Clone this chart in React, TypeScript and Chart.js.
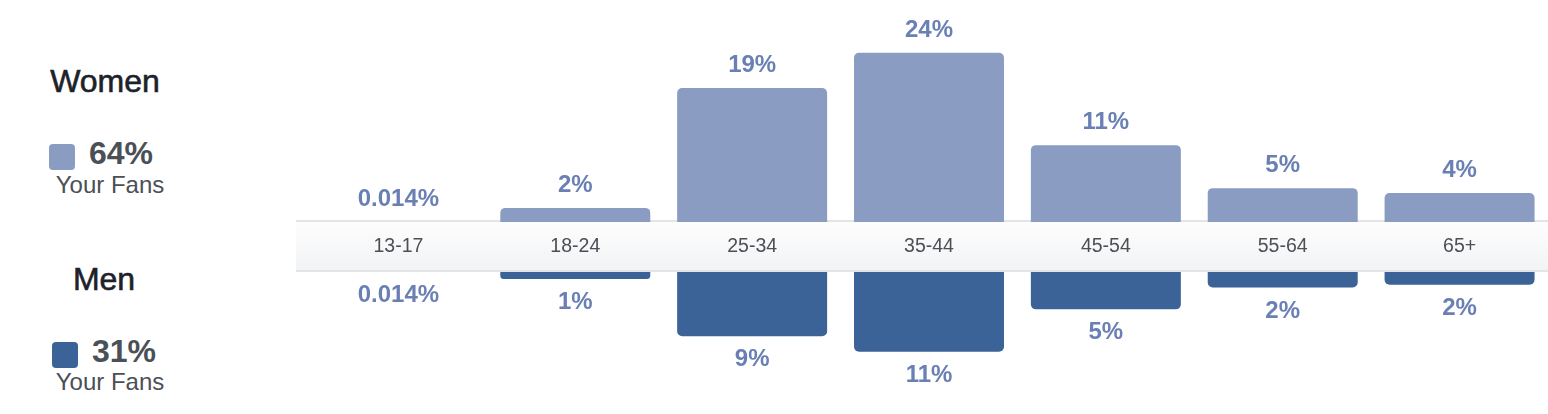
import React, { useEffect, useRef } from 'react';
import { Chart, registerables } from 'chart.js';

Chart.register(...registerables);

// ---- data ----
const AGE_GROUPS = ['13-17', '18-24', '25-34', '35-44', '45-54', '55-64', '65+'];
const WOMEN_PCT = [0.014, 2.0, 19.0, 24.0, 10.9, 4.8, 4.1];
const MEN_PCT = [0.014, 1.0, 9.1, 11.3, 5.3, 2.2, 1.8];
const WOMEN_TOTAL = '64%';
const MEN_TOTAL = '31%';
const SERIES_NAMES = ['Women', 'Men'];
const SUB_LABEL = 'Your Fans';
const WOMEN_AXIS_MAX = 30;
const MEN_AXIS_MAX = 20;

// ---- styles ----
const WOMEN_COLOR = '#8a9cc2';
const MEN_COLOR = '#3b6397';
const VALUE_LABEL_COLOR = '#6a80b5';
const DARK_TEXT = '#1d2129';
const MID_TEXT = '#4b4f56';
const FONT = '"Liberation Sans", Arial, Helvetica, sans-serif';

const formatPct = (v: number) => (v < 0.1 ? `${v.toFixed(3)}%` : `${Math.round(v)}%`);

const bandPlugin = {
  id: 'ageBand',
  beforeDatasetsDraw(chart: any) {
    const { ctx, chartArea, scales } = chart;
    const band = scales.yBand;
    const left = chartArea.left - 14;
    const right = chart.width;
    ctx.save();
    ctx.fillStyle = '#e3e4e6';
    ctx.fillRect(left, band.top - 2, right - left, 2);
    ctx.fillRect(left, band.bottom - 2, right - left, 2);
    const g = ctx.createLinearGradient(0, band.top, 0, band.bottom - 2);
    g.addColorStop(0, '#fdfdfd');
    g.addColorStop(1, '#f2f3f5');
    ctx.fillStyle = g;
    ctx.fillRect(left, band.top, right - left, band.bottom - 2 - band.top);
    ctx.font = `19.5px ${FONT}`;
    ctx.fillStyle = MID_TEXT;
    ctx.textAlign = 'center';
    ctx.textBaseline = 'alphabetic';
    const x = scales.x;
    (chart.data.labels as string[]).forEach((lab, i) => {
      ctx.fillText(lab, x.getPixelForValue(i), band.bottom - 20);
    });
    ctx.restore();
  },
};

const valueLabelPlugin = {
  id: 'valueLabels',
  afterDatasetsDraw(chart: any) {
    const ctx = chart.ctx;
    ctx.save();
    ctx.font = `bold 24px ${FONT}`;
    ctx.fillStyle = VALUE_LABEL_COLOR;
    ctx.textAlign = 'center';
    ctx.textBaseline = 'alphabetic';
    chart.data.datasets.forEach((ds: any, di: number) => {
      const meta = chart.getDatasetMeta(di);
      meta.data.forEach((bar: any, i: number) => {
        const text = formatPct(ds.data[i]);
        if (di === 0) ctx.fillText(text, bar.x, bar.y - 16);
        else ctx.fillText(text, bar.x, bar.y + 30);
      });
    });
    ctx.restore();
  },
};

function AgeChart() {
  const ref = useRef<HTMLCanvasElement | null>(null);
  useEffect(() => {
    if (!ref.current) return;
    const chart = new Chart(ref.current, {
      type: 'bar',
      data: {
        labels: AGE_GROUPS,
        datasets: [
          {
            label: SERIES_NAMES[0],
            data: WOMEN_PCT,
            yAxisID: 'yW',
            backgroundColor: WOMEN_COLOR,
            borderRadius: 5,
            borderSkipped: 'start',
            barPercentage: 0.848,
            categoryPercentage: 1,
            grouped: false,
          } as any,
          {
            label: SERIES_NAMES[1],
            data: MEN_PCT,
            yAxisID: 'yM',
            backgroundColor: MEN_COLOR,
            borderRadius: 5,
            borderSkipped: 'start',
            barPercentage: 0.848,
            categoryPercentage: 1,
            grouped: false,
          } as any,
        ],
      },
      options: {
        responsive: false,
        maintainAspectRatio: false,
        animation: false,
        layout: { padding: { left: 14, right: 0, top: 10.5, bottom: 1 } },
        plugins: { legend: { display: false }, tooltip: { enabled: false } },
        scales: {
          x: { display: false },
          yM: { display: false, position: 'left', stack: 'g', stackWeight: 141, min: 0, max: MEN_AXIS_MAX, reverse: true },
          yBand: { display: false, position: 'left', stack: 'g', stackWeight: 50, min: 0, max: 1 },
          yW: { display: false, position: 'left', stack: 'g', stackWeight: 211.5, min: 0, max: WOMEN_AXIS_MAX },
        } as any,
      },
      plugins: [bandPlugin, valueLabelPlugin],
    });
    return () => chart.destroy();
  }, []);
  return (
    <canvas
      ref={ref}
      width={1252}
      height={414}
      style={{ position: 'absolute', left: 296, top: 0, width: 1252, height: 414 }}
    />
  );
}

function LegendBlock({ name, total, color, nameTop, nameCenter, squareX, squareY, totalX, totalTop, fansTop }: any) {
  return (
    <>
      <div
        style={{
          position: 'absolute', left: nameCenter - 100, width: 200, top: nameTop, textAlign: 'center',
          font: `500 32px/32px ${FONT}`, color: DARK_TEXT, whiteSpace: 'nowrap',
          WebkitTextStroke: `0.6px ${DARK_TEXT}`,
        }}
      >
        {name}
      </div>
      <div
        style={{
          position: 'absolute', left: squareX, top: squareY, width: 26, height: 26,
          borderRadius: 4, background: color,
        }}
      />
      <div
        style={{
          position: 'absolute', left: totalX, top: totalTop,
          font: `bold 32px/32px ${FONT}`, color: MID_TEXT, whiteSpace: 'nowrap',
        }}
      >
        {total}
      </div>
      <div
        style={{
          position: 'absolute', left: 10, width: 200, top: fansTop, textAlign: 'center',
          font: `24px/24px ${FONT}`, color: MID_TEXT, whiteSpace: 'nowrap',
        }}
      >
        {SUB_LABEL}
      </div>
    </>
  );
}

export default function App() {
  return (
    <div
      style={{
        position: 'absolute', left: 0, top: 0, width: 1548, height: 414,
        overflow: 'hidden', background: '#ffffff',
      }}
    >
      <LegendBlock
        name={SERIES_NAMES[0]} total={WOMEN_TOTAL} color={WOMEN_COLOR}
        nameTop={65} nameCenter={105} squareX={49} squareY={144}
        totalX={89} totalTop={137} fansTop={173}
      />
      <LegendBlock
        name={SERIES_NAMES[1]} total={MEN_TOTAL} color={MEN_COLOR}
        nameTop={263} nameCenter={104} squareX={52} squareY={342}
        totalX={92} totalTop={335} fansTop={370}
      />
      <AgeChart />
    </div>
  );
}
